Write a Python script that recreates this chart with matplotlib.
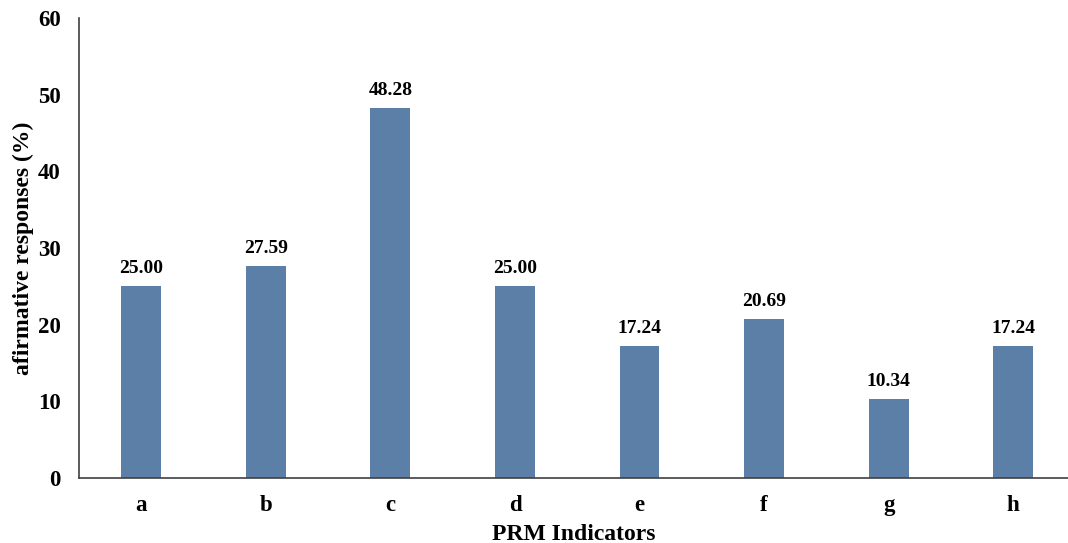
import matplotlib
matplotlib.use("Agg")
import matplotlib.pyplot as plt

categories = ["a", "b", "c", "d", "e", "f", "g", "h"]
values = [25.00, 27.59, 48.28, 25.00, 17.24, 20.69, 10.34, 17.24]
yticks = [0, 10, 20, 30, 40, 50, 60]

plt.rcParams['font.family'] = ['Liberation Serif', 'DejaVu Serif']
plt.rcParams['font.weight'] = 'bold'

fig = plt.figure(figsize=(10.68, 5.43), dpi=100)
ax = fig.add_axes([0.074, 0.1197, 0.926, 0.8472])

x = range(len(categories))
bars = ax.bar(x, values, width=0.32, color='#5b7fa6')
for b, v in zip(bars, values):
    ax.text(b.get_x() + b.get_width() / 2, v + 1.2, f"{v:.2f}",
            ha='center', va='bottom', fontsize=14, fontweight='bold')

ax.set_xlim(-0.5, 7.44)
ax.set_ylim(0, 60)
ax.set_yticks(yticks)
ax.set_xticks(list(x))
ax.set_xticklabels(categories)
ax.tick_params(length=0, labelsize=16.5)
ax.tick_params(axis='y', pad=13)
ax.tick_params(axis='x', pad=12)
for s in ['top', 'right']:
    ax.spines[s].set_visible(False)
for s in ['left', 'bottom']:
    ax.spines[s].set_color('#404040')
    ax.spines[s].set_linewidth(1.2)

ax.set_xlabel("PRM Indicators", fontsize=17, fontweight='bold', labelpad=6)
ax.set_ylabel("afirmative responses (%)", fontsize=17, fontweight='bold', labelpad=3)

fig.savefig("out.png", dpi=100)
